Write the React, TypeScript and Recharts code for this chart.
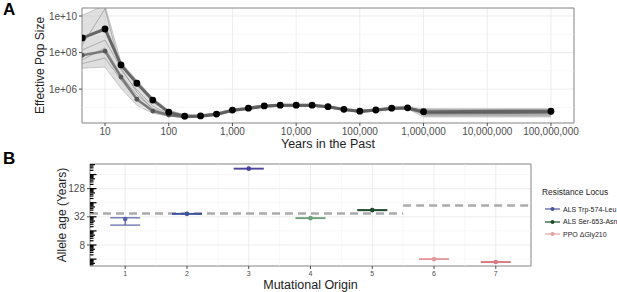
import React from 'react';
import {
  ComposedChart,
  Line,
  Area,
  Scatter,
  ErrorBar,
  XAxis,
  YAxis,
  CartesianGrid,
  ReferenceLine,
  ReferenceArea,
  Label,
} from 'recharts';

const FONT = '"Liberation Sans", Arial, Helvetica, sans-serif';
const TICK_GREY = '#4d4d4d';
const BORDER = '#8c8c8c';

// ---- panel A: effective population size back in time
const years = [
  4.4, 10, 17.8, 31.6, 56.2, 100, 178, 316, 562, 1000, 1780, 3160, 5620, 10000, 17800, 31600,
  56200, 100000, 178000, 316000, 562000, 1000000, 100000000,
];
const neMain = [
  6.3e8, 1.95e9, 2.1e7, 2.1e6, 2.5e5, 5.5e4, 3.3e4, 3.4e4, 4.3e4, 7.1e4, 9.1e4, 1.2e5, 1.32e5,
  1.32e5, 1.32e5, 1.1e5, 7.8e4, 6.2e4, 7.2e4, 9.1e4, 9.5e4, 5.8e4, 6.2e4,
];
const neSecond = [
  7.2e7, 1.2e8, 4.6e6, 2.8e5, 6.3e4, 3.8e4, 2.95e4, 3.2e4, 4.0e4, 6.6e4, 8.5e4, 1.12e5, 1.26e5,
  1.26e5, 1.26e5, 1.05e5, 7.4e4, 5.8e4, 6.8e4, 8.5e4, 8.9e4, 5.0e4, 5.2e4,
];
const neLow = [
  1.4e7, 1.6e7, 1.1e6, 1.3e5, 4.8e4, 3.3e4, 2.8e4, 3.0e4, 3.7e4, 6.2e4, 7.9e4, 1.05e5, 1.15e5,
  1.15e5, 1.15e5, 9.5e4, 6.8e4, 5.4e4, 6.3e4, 7.9e4, 8.3e4, 3.0e4, 3.0e4,
];
const neHigh = [
  1.1e10, 4e10, 3.0e7, 3.1e6, 3.2e5, 7.1e4, 4.0e4, 4.0e4, 5.0e4, 8.1e4, 1.05e5, 1.38e5, 1.5e5,
  1.5e5, 1.5e5, 1.26e5, 8.9e4, 7.1e4, 8.3e4, 1.05e5, 1.1e5, 8.5e4, 8.5e4,
];
// individual replicate runs (only visible where they split from the mean)
const gap = Array(14).fill(null);
const neRep1 = [2.6e8, 2.5e10, 1.1e7, 8.9e5, 1.2e5, 4.3e4, 3.2e4, ...gap, 3.5e4, 3.5e4];
const neRep2 = [4.0e7, 1.8e8, 5.9e6, 4.7e5, 9.1e4, 3.8e4, 3.0e4, ...gap, 4.5e4, 4.5e4];
const neRep3 = [2.5e7, 5.0e7, 3.2e6, 2.5e5, 7.1e4, 3.3e4, 2.9e4, ...gap, 4.0e4, 4.0e4];
const neRep4 = [1.4e8, 4.8e8, 1.4e7, 6.9e5, 7.9e4, 3.8e4, 3.1e4, ...gap, 7.5e4, 7.5e4];

const xTicksA = [10, 100, 1000, 10000, 100000, 1000000, 10000000, 100000000];
const yTicksA = [1e6, 1e8, 1e10];
const yMinorA = [1e5, 1e7, 1e9];
const xDomainA = [4.35, 2.3e8];
const yDomainA = [1.4e4, 2.75e10];

const rowsA = years.map((year, i) => ({
  year,
  main: neMain[i],
  second: neSecond[i],
  band: [neLow[i], neHigh[i]],
  r1: neRep1[i],
  r2: neRep2[i],
  r3: neRep3[i],
  r4: neRep4[i],
}));

// ---- panel B: allele ages per mutational origin
const origins = [1, 2, 3, 4, 5, 6, 7];
const alleleAge = [28.6, 37, 342, 30, 44.5, 4.0, 3.46];
const ageLow = [21.3, 36.3, 336, 29.5, 43.6, 3.93, 3.4];
const ageHigh = [30.5, 37.7, 348, 30.5, 45.4, 4.07, 3.52];
const originLocus = [0, 0, 0, 1, 1, 2, 2];
const originColors = ['#5663a6', '#3f52a0', '#47409a', '#6e9f7b', '#1f4a2b', '#e39a9a', '#da7a80'];
const loci = ['ALS Trp-574-Leu', 'ALS Ser-653-Asn', 'PPO ΔGly210'];
const locusColors = ['#4a5599', '#1d4d2a', '#e6a0a0'];
const meanAges = [
  { from: 0.43, to: 5.5, age: 37.8 },
  { from: 5.5, to: 7.57, age: 56 },
];

const xTicksB = [1, 2, 3, 4, 5, 6, 7];
const xMinorB = [1.5, 2.5, 3.5, 4.5, 5.5, 6.5];
const yTicksB = [8, 32, 128];
const yMinorB = [4, 16, 64, 256];
const xDomainB = [0.43, 7.57];
const yDomainB = [2.85, 430];

// base-10 log ticks drawn on the log2 axis, like annotation_logticks does
const logTicks: { v: number; len: number }[] = [];
for (let k = 1; k <= 8; k++) {
  for (let m = 1; m <= 9; m++) {
    const v = Math.pow(2, k + Math.log10(m));
    if (v < yDomainB[0] || v > yDomainB[1]) continue;
    logTicks.push({ v, len: m === 1 ? 6.5 : m === 5 ? 5 : 3.5 });
  }
}

const tickStyle = { fontSize: 10, fill: TICK_GREY, fontFamily: FONT };

const yTitle = (text: string, cx: number) => (props: any) => {
  const vb = props.viewBox;
  const cy = vb.y + vb.height / 2;
  return (
    <text
      x={cx}
      y={cy}
      transform={`rotate(-90 ${cx} ${cy})`}
      textAnchor="middle"
      dominantBaseline="central"
      fontSize={12}
      fill="#222"
      fontFamily={FONT}
    >
      {text}
    </text>
  );
};

const fmtPow = (v: number) => '1e+' + String(Math.round(Math.log10(v))).padStart(2, '0');

function PanelA() {
  return (
    <ComposedChart
      width={617}
      height={150}
      data={rowsA}
      margin={{ top: 8, right: 43, left: 0, bottom: 0 }}
    >
      <CartesianGrid stroke="#e8e8e8" strokeWidth={0.8} />
      {yMinorA.map((v) => (
        <ReferenceLine key={v} y={v} stroke="#f2f2f2" strokeWidth={0.6} />
      ))}
      <XAxis
        dataKey="year"
        type="number"
        scale="log"
        domain={xDomainA}
        allowDataOverflow
        ticks={xTicksA}
        tickFormatter={(v: number) => v.toLocaleString('en-US')}
        tick={tickStyle}
        tickLine={{ stroke: TICK_GREY }}
        tickSize={3}
        axisLine={false}
        height={27}
        interval={0}
      >
        <Label
          value="Years in the Past"
          position="insideBottom"
          offset={2}
          style={{ fontSize: 12.5, fill: '#222', fontFamily: FONT }}
        />
      </XAxis>
      <YAxis
        type="number"
        scale="log"
        domain={yDomainA}
        allowDataOverflow
        ticks={yTicksA}
        tickFormatter={fmtPow}
        tick={tickStyle}
        tickLine={{ stroke: TICK_GREY }}
        tickSize={3}
        axisLine={false}
        width={82}
      >
        <Label content={yTitle('Effective Pop Size', 40)} />
      </YAxis>
      <Area
        dataKey="band"
        fill="#c4c4c4"
        fillOpacity={0.55}
        stroke="#9a9a9a"
        strokeWidth={0.5}
        isAnimationActive={false}
      />
      {['r1', 'r2', 'r3', 'r4'].map((k) => (
        <Line
          key={k}
          dataKey={k}
          stroke="#8a8a8a"
          strokeOpacity={0.6}
          strokeWidth={1}
          dot={false}
          isAnimationActive={false}
        />
      ))}
      <Line
        dataKey="second"
        stroke="#6a6a6a"
        strokeOpacity={0.85}
        strokeWidth={2.5}
        dot={{ r: 2.4, fill: '#555', stroke: 'none' }}
        isAnimationActive={false}
      />
      <Line
        dataKey="main"
        stroke="#5a5a5a"
        strokeOpacity={0.9}
        strokeWidth={3}
        dot={{ r: 3.4, fill: '#000', stroke: 'none' }}
        isAnimationActive={false}
      />
      <ReferenceArea
        x1={xDomainA[0]}
        x2={xDomainA[1]}
        y1={yDomainA[0]}
        y2={yDomainA[1]}
        fill="none"
        stroke={BORDER}
        strokeWidth={1}
        ifOverflow="visible"
      />
    </ComposedChart>
  );
}

function PanelB() {
  return (
    <ComposedChart width={617} height={144} margin={{ top: 16, right: 86, left: 0, bottom: 0 }}>
      <CartesianGrid stroke="#e8e8e8" strokeWidth={0.8} />
      {xMinorB.map((v) => (
        <ReferenceLine key={'x' + v} x={v} stroke="#f2f2f2" strokeWidth={0.6} />
      ))}
      {yMinorB.map((v) => (
        <ReferenceLine key={'y' + v} y={v} stroke="#f2f2f2" strokeWidth={0.6} />
      ))}
      <XAxis
        dataKey="x"
        type="number"
        domain={xDomainB}
        allowDataOverflow
        ticks={xTicksB}
        tick={{ ...tickStyle, fontSize: 7 }}
        tickLine={{ stroke: TICK_GREY }}
        tickSize={3}
        axisLine={false}
        height={26}
        interval={0}
      >
        <Label
          value="Mutational Origin"
          position="insideBottom"
          offset={3}
          style={{ fontSize: 12.5, fill: '#222', fontFamily: FONT }}
        />
      </XAxis>
      <YAxis
        dataKey="y"
        type="number"
        scale="log"
        domain={yDomainB}
        allowDataOverflow
        ticks={yTicksB}
        tick={tickStyle}
        tickLine={{ stroke: TICK_GREY }}
        tickSize={3}
        axisLine={false}
        width={90}
      >
        <Label content={yTitle('Allele age (Years)', 62)} />
      </YAxis>
      {meanAges.map((s) => (
        <ReferenceLine
          key={s.from}
          segment={[
            { x: s.from, y: s.age },
            { x: s.to, y: s.age },
          ]}
          stroke="#ababab"
          strokeWidth={2.5}
          strokeDasharray="8 5"
          ifOverflow="hidden"
        />
      ))}
      {origins.map((o, i) => {
        const color = originColors[i];
        const row = {
          x: o,
          y: alleleAge[i],
          err: [alleleAge[i] - ageLow[i], ageHigh[i] - alleleAge[i]],
          locus: loci[originLocus[i]],
        };
        return (
          <Scatter
            key={o}
            data={[row]}
            isAnimationActive={false}
            shape={(p: any) => <circle cx={p.cx} cy={p.cy} r={2.3} fill={color} />}
          >
            <ErrorBar
              dataKey="err"
              direction="y"
              width={15}
              stroke={color}
              strokeWidth={1.2}
              isAnimationActive={false}
            />
          </Scatter>
        );
      })}
      <ReferenceArea
        x1={xDomainB[0]}
        x2={xDomainB[1]}
        y1={yDomainB[0]}
        y2={yDomainB[1]}
        fill="none"
        stroke={BORDER}
        strokeWidth={1}
        ifOverflow="visible"
      />
      {logTicks.map((t) => (
        <ReferenceLine
          key={t.v}
          y={t.v}
          shape={(p: any) => {
            const left = Math.min(p.x1, p.x2);
            return (
              <line x1={left} x2={left + t.len} y1={p.y1} y2={p.y1} stroke="#000" strokeWidth={1.2} />
            );
          }}
        />
      ))}
    </ComposedChart>
  );
}

function LocusLegend() {
  return (
    <div style={{ position: 'absolute', left: 542, top: 187, fontFamily: FONT }}>
      <div style={{ fontSize: 8.4, lineHeight: '11px', color: '#222', marginBottom: 5 }}>
        Resistance Locus
      </div>
      {loci.map((name, i) => (
        <div key={name} style={{ display: 'flex', alignItems: 'center', height: 12.5 }}>
          <svg width={21} height={10} style={{ flex: 'none' }}>
            <line x1={3} x2={18} y1={5} y2={5} stroke={locusColors[i]} strokeWidth={1.2} />
            <circle cx={10.5} cy={5} r={2} fill={locusColors[i]} />
          </svg>
          <span style={{ fontSize: 7, color: '#222', whiteSpace: 'nowrap' }}>{name}</span>
        </div>
      ))}
    </div>
  );
}

const panelLetter = (letter: string, top: number) => (
  <div
    style={{
      position: 'absolute',
      left: 3,
      top,
      fontSize: 17,
      fontWeight: 'bold',
      fontFamily: FONT,
      lineHeight: 1,
    }}
  >
    {letter}
  </div>
);

export default function App() {
  return (
    <div
      style={{
        position: 'absolute',
        left: 0,
        top: 0,
        width: 617,
        height: 292,
        background: '#fff',
        overflow: 'hidden',
      }}
    >
      <div style={{ position: 'absolute', left: 0, top: 0 }}>
        <PanelA />
      </div>
      <div style={{ position: 'absolute', left: 0, top: 148 }}>
        <PanelB />
      </div>
      <LocusLegend />
      {panelLetter('A', 1)}
      {panelLetter('B', 150)}
    </div>
  );
}
